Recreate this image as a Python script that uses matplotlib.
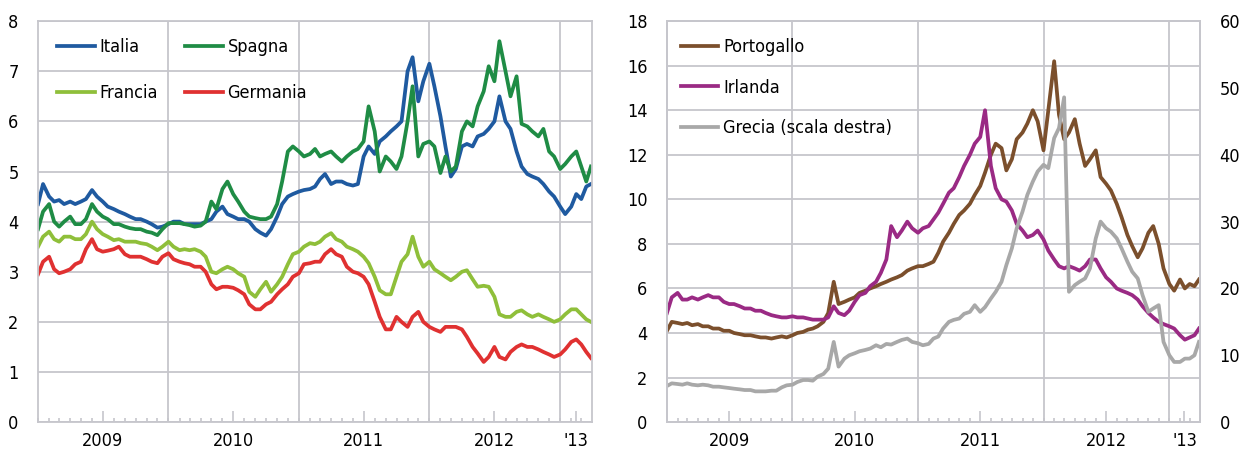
import matplotlib
matplotlib.use("Agg")
import matplotlib.pyplot as plt
import matplotlib.dates as mdates
from matplotlib.ticker import MultipleLocator
import pandas as pd

plt.rcParams['font.family'] = ['DejaVu Sans']
plt.rcParams['font.stretch'] = 'condensed'

# semi-monthly observations (1st and 15th), last one end of March 2013
dates = list(pd.date_range('2009-01-01', '2013-03-15', freq='SMS')) + [pd.Timestamp('2013-03-28')]

italia = [4.35, 4.75, 4.5, 4.4, 4.43, 4.35, 4.4, 4.35, 4.4, 4.45, 4.63, 4.5, 4.4, 4.3, 4.25, 4.2, 4.15, 4.1, 4.05, 4.05, 4.0, 3.95, 3.88, 3.9,
          3.95, 4.0, 4.0, 3.95, 3.95, 3.95, 3.95, 4.0, 4.05, 4.2, 4.3, 4.15, 4.1, 4.05, 4.05, 4.0, 3.85, 3.78, 3.72, 3.85, 4.1, 4.35, 4.5, 4.55,
          4.6, 4.63, 4.65, 4.7, 4.85, 4.95, 4.75, 4.8, 4.8, 4.75, 4.72, 4.75, 5.3, 5.5, 5.35, 5.6, 5.7, 5.8, 5.9, 6.0, 7.0, 7.28, 6.4, 6.8,
          7.15, 6.7, 6.1, 5.5, 4.9, 5.05, 5.5, 5.55, 5.5, 5.7, 5.75, 5.85, 6.0, 6.5, 6.0, 5.85, 5.4, 5.1, 4.95, 4.9, 4.85, 4.75, 4.6, 4.5,
          4.3, 4.15, 4.3, 4.55, 4.45, 4.7, 4.75]
spagna = [3.85, 4.2, 4.35, 4.0, 3.9, 4.0, 4.1, 3.95, 3.95, 4.05, 4.35, 4.2, 4.1, 4.05, 3.95, 3.95, 3.9, 3.87, 3.85, 3.85, 3.8, 3.78, 3.73, 3.85,
          3.97, 3.97, 3.97, 3.95, 3.93, 3.9, 3.92, 4.0, 4.4, 4.25, 4.65, 4.8, 4.55, 4.4, 4.2, 4.1, 4.07, 4.05, 4.05, 4.1, 4.35, 4.8, 5.4, 5.5,
          5.4, 5.3, 5.35, 5.45, 5.3, 5.35, 5.4, 5.3, 5.2, 5.3, 5.4, 5.45, 5.6, 6.3, 5.8, 5.0, 5.3, 5.2, 5.05, 5.3, 6.0, 6.7, 5.3, 5.55,
          5.6, 5.5, 4.97, 5.3, 5.0, 5.1, 5.8, 6.0, 5.9, 6.3, 6.6, 7.1, 6.8, 7.6, 7.0, 6.5, 6.9, 5.95, 5.9, 5.8, 5.7, 5.85, 5.4, 5.3,
          5.05, 5.15, 5.3, 5.4, 5.1, 4.8, 5.1]
francia = [3.5, 3.7, 3.8, 3.65, 3.6, 3.7, 3.7, 3.65, 3.65, 3.75, 4.0, 3.85, 3.75, 3.7, 3.63, 3.65, 3.6, 3.6, 3.6, 3.57, 3.55, 3.5, 3.43, 3.5,
           3.6, 3.5, 3.43, 3.45, 3.43, 3.45, 3.4, 3.3, 3.0, 2.97, 3.05, 3.1, 3.05, 2.97, 2.9, 2.6, 2.5, 2.65, 2.8, 2.6, 2.75, 2.9, 3.15, 3.35,
           3.4, 3.5, 3.57, 3.55, 3.6, 3.7, 3.77, 3.65, 3.6, 3.5, 3.45, 3.4, 3.3, 3.17, 2.9, 2.63, 2.55, 2.55, 2.9, 3.2, 3.35, 3.7, 3.3, 3.1,
           3.2, 3.05, 2.97, 2.9, 2.83, 2.9, 3.0, 3.03, 2.85, 2.7, 2.72, 2.7, 2.5, 2.15, 2.1, 2.1, 2.2, 2.23, 2.15, 2.1, 2.15, 2.1, 2.05, 2.0,
           2.05, 2.15, 2.25, 2.25, 2.15, 2.05, 2.0]
germania = [2.95, 3.2, 3.3, 3.05, 2.97, 3.0, 3.05, 3.15, 3.2, 3.45, 3.65, 3.45, 3.4, 3.42, 3.45, 3.5, 3.35, 3.3, 3.3, 3.3, 3.25, 3.2, 3.17, 3.3,
            3.37, 3.25, 3.2, 3.17, 3.15, 3.1, 3.1, 3.0, 2.75, 2.65, 2.7, 2.7, 2.68, 2.63, 2.55, 2.35, 2.25, 2.25, 2.35, 2.4, 2.55, 2.65, 2.75, 2.9,
            2.97, 3.15, 3.17, 3.2, 3.2, 3.35, 3.45, 3.35, 3.3, 3.1, 3.0, 2.97, 2.9, 2.75, 2.4, 2.1, 1.85, 1.85, 2.1, 2.0, 1.9, 2.1, 2.2, 2.0,
            1.9, 1.85, 1.8, 1.9, 1.9, 1.9, 1.85, 1.7, 1.5, 1.37, 1.2, 1.3, 1.5, 1.3, 1.25, 1.4, 1.5, 1.55, 1.5, 1.5, 1.45, 1.4, 1.35, 1.3,
            1.35, 1.45, 1.6, 1.65, 1.55, 1.4, 1.28]

portogallo = [4.1, 4.5, 4.45, 4.4, 4.45, 4.35, 4.4, 4.3, 4.3, 4.2, 4.2, 4.1, 4.1, 4.0, 3.95, 3.9, 3.9, 3.85, 3.8, 3.8, 3.75, 3.8, 3.85, 3.8,
              3.9, 4.0, 4.05, 4.15, 4.2, 4.3, 4.5, 4.9, 6.3, 5.3, 5.4, 5.5, 5.6, 5.8, 5.9, 6.0, 6.1, 6.2, 6.3, 6.4, 6.5, 6.6, 6.8, 6.9,
              7.0, 7.0, 7.1, 7.2, 7.6, 8.1, 8.5, 8.9, 9.3, 9.5, 9.8, 10.2, 10.6, 11.2, 12.0, 12.5, 12.3, 11.3, 11.8, 12.7, 13.0, 13.4, 14.0, 13.5,
              12.2, 14.0, 16.2, 13.8, 12.7, 13.0, 13.6, 12.5, 11.5, 11.8, 12.2, 11.0, 10.7, 10.4, 9.8, 9.2, 8.4, 7.9, 7.4, 7.8, 8.5, 8.8, 8.0, 6.9,
              6.2, 5.9, 6.4, 6.0, 6.2, 6.1, 6.4]
irlanda = [4.9, 5.6, 5.8, 5.5, 5.5, 5.6, 5.5, 5.6, 5.7, 5.6, 5.6, 5.4, 5.3, 5.3, 5.2, 5.1, 5.1, 5.0, 5.0, 4.9, 4.8, 4.75, 4.7, 4.7,
           4.75, 4.7, 4.7, 4.65, 4.6, 4.6, 4.6, 4.7, 5.2, 4.9, 4.8, 5.0, 5.4, 5.7, 5.8, 6.1, 6.3, 6.7, 7.3, 8.8, 8.3, 8.6, 9.0, 8.7,
           8.5, 8.7, 8.8, 9.1, 9.4, 9.8, 10.3, 10.5, 11.0, 11.5, 12.0, 12.5, 12.8, 14.0, 11.5, 10.5, 10.0, 9.9, 9.5, 8.9, 8.6, 8.3, 8.4, 8.6,
           8.2, 7.7, 7.3, 7.0, 6.9, 7.0, 6.9, 6.8, 7.0, 7.3, 7.3, 6.9, 6.5, 6.3, 6.0, 5.9, 5.8, 5.7, 5.5, 5.2, 4.9, 4.7, 4.5, 4.4,
           4.3, 4.2, 3.9, 3.7, 3.8, 3.9, 4.2]
grecia = [5.4, 5.8, 5.7, 5.6, 5.8, 5.6, 5.5, 5.6, 5.5, 5.3, 5.3, 5.2, 5.1, 5.0, 4.9, 4.8, 4.8, 4.6, 4.6, 4.6, 4.7, 4.7, 5.2, 5.5,
          5.6, 6.0, 6.3, 6.3, 6.2, 6.8, 7.2, 8.0, 12.0, 8.3, 9.5, 10.0, 10.3, 10.6, 10.8, 11.0, 11.5, 11.2, 11.7, 11.6, 12.0, 12.3, 12.5, 12.0,
          11.8, 11.5, 11.7, 12.5, 12.8, 14.0, 15.0, 15.3, 15.5, 16.2, 16.5, 17.5, 16.5, 17.2, 18.5, 19.5, 21.0, 23.5, 26.0, 29.0, 31.5, 34.0, 36.0, 37.5,
          38.5, 38.0, 42.5, 44.0, 48.6, 19.5, 20.5, 21.0, 21.5, 23.0, 27.5, 30.0, 29.0, 28.5, 27.5, 26.0, 24.0, 22.5, 21.5, 19.0, 16.5, 17.0, 17.5, 12.0,
          10.0, 9.0, 9.0, 9.5, 9.5, 10.0, 12.0]

year_starts = ['2010-01-01', '2011-01-01', '2012-01-01', '2013-01-01']
label_pos = ['2009-07-01', '2010-07-01', '2011-07-01', '2012-07-01', '2013-02-14']
year_labels = ['2009', '2010', '2011', '2012', "'13"]

grid_col = '#c6c6cc'
lw = 2.7
fs = 13

fig = plt.figure(figsize=(12.39, 4.5), dpi=100)
axl = fig.add_axes([0.0307, 0.062, 0.4471, 0.891])
axr = fig.add_axes([0.5383, 0.062, 0.4302, 0.891])


def style_time_axis(ax):
    ax.set_xlim(pd.Timestamp('2009-01-01'), pd.Timestamp('2013-03-31'))
    for d in year_starts:
        ax.axvline(pd.Timestamp(d), color=grid_col, lw=1.3, zorder=0.5)
    ax.set_xticks(pd.to_datetime(label_pos))
    ax.set_xticklabels(year_labels)
    ax.xaxis.set_minor_locator(mdates.MonthLocator())
    ax.tick_params(axis='x', which='major', direction='in', length=8, color=grid_col, width=1.2, pad=7, labelsize=fs)
    ax.tick_params(axis='x', which='minor', direction='in', length=3, color=grid_col, width=1.2)
    ax.tick_params(axis='y', length=0, labelsize=fs, pad=14)
    ax.yaxis.grid(True, color=grid_col, lw=1.3)
    ax.set_axisbelow(True)
    for s in ax.spines.values():
        s.set_color(grid_col)
        s.set_linewidth(1.3)


# left panel
axl.plot(dates, italia, color='#1f5aa0', lw=lw, label='Italia')
axl.plot(dates, spagna, color='#1f8c45', lw=lw, label='Spagna')
axl.plot(dates, francia, color='#8fbf3a', lw=lw, label='Francia')
axl.plot(dates, germania, color='#e03131', lw=lw, label='Germania')
axl.set_ylim(0, 8)
axl.yaxis.set_major_locator(MultipleLocator(1))
style_time_axis(axl)
h, l = axl.get_legend_handles_labels()
axl.legend([h[0], h[2], h[1], h[3]], [l[0], l[2], l[1], l[3]], ncol=2, loc='upper left',
           bbox_to_anchor=(0.005, 0.998), frameon=False, fontsize=fs, labelspacing=1.55,
           handlelength=2.1, handletextpad=0.25, columnspacing=1.5)

# right panel
axr.plot(dates, portogallo, color='#7b4f2c', lw=lw, label='Portogallo')
axr.plot(dates, irlanda, color='#9a2a84', lw=lw, label='Irlanda')
axr.set_ylim(0, 18)
axr.yaxis.set_major_locator(MultipleLocator(2))
style_time_axis(axr)

ax2 = axr.twinx()
ax2.plot(dates, grecia, color='#a8a8a8', lw=lw, label='Grecia (scala destra)')
ax2.set_ylim(0, 60)
ax2.yaxis.set_major_locator(MultipleLocator(10))
ax2.tick_params(axis='y', length=0, labelsize=fs, pad=14)
for s in ax2.spines.values():
    s.set_color(grid_col)
    s.set_linewidth(1.3)

hr, lr = axr.get_legend_handles_labels()
hg, lg = ax2.get_legend_handles_labels()
ax2.legend(hr + hg, lr + lg, loc='upper left', bbox_to_anchor=(-0.005, 0.998), frameon=False,
           fontsize=fs, labelspacing=1.25, handlelength=2.1, handletextpad=0.25)

fig.savefig('out.png', dpi=100)
